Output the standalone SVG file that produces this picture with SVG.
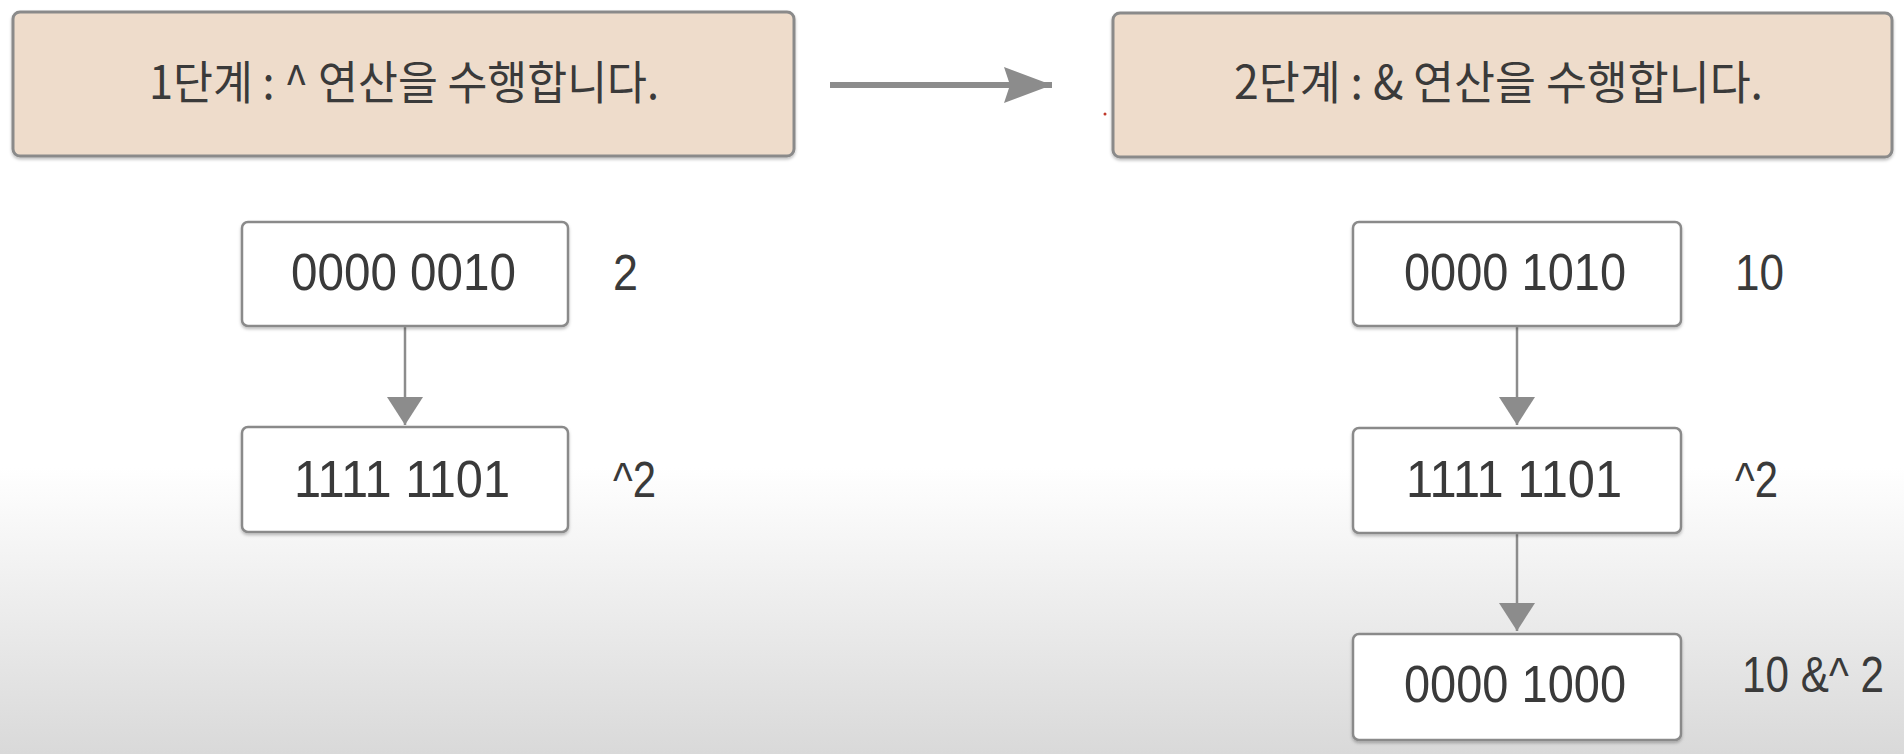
<svg xmlns="http://www.w3.org/2000/svg" width="1904" height="754" viewBox="0 0 1904 754">
  <defs>
    <linearGradient id="bg" x1="0" y1="0" x2="0" y2="754" gradientUnits="userSpaceOnUse">
      <stop offset="0" stop-color="#ffffff"/>
      <stop offset="0.62" stop-color="#ffffff"/>
      <stop offset="1" stop-color="#d9d9d9"/>
    </linearGradient>
    <filter id="sh" x="-5%" y="-5%" width="110%" height="115%">
      <feDropShadow dx="0" dy="2" stdDeviation="1.5" flood-color="#000" flood-opacity="0.25"/>
    </filter>
    <marker id="ah" viewBox="0 0 28 36" refX="28" refY="18" markerWidth="28" markerHeight="36" markerUnits="userSpaceOnUse" orient="auto">
      <path d="M0,0 L28,18 L0,36 Z" fill="#8c8c8c"/>
    </marker>
    <marker id="ahBig" viewBox="0 0 48 36" refX="48" refY="18" markerWidth="48" markerHeight="36" markerUnits="userSpaceOnUse" orient="auto">
      <path d="M0,0 L48,18 L0,36 L6,18 Z" fill="#8c8c8c"/>
    </marker>
    <style>
      .step rect { fill: #eedccb; stroke: #8a8a8a; stroke-width: 3; }
      .val rect { fill: #ffffff; stroke: #8a8a8a; stroke-width: 2.5; }
      .t { font-family: "Noto Sans CJK KR", "Noto Sans", sans-serif; font-size: 46px; fill: #3a3a3a; }
      .n { font-family: "Liberation Sans", Arial, sans-serif; font-size: 52px; fill: #3a3a3a; }
      .lbl { font-family: "Liberation Sans", Arial, sans-serif; font-size: 50px; fill: #3a3a3a; }
      .conn { stroke: #8c8c8c; stroke-width: 2.5; fill: none; }
      .conn.thick { stroke-width: 6; }
    </style>
  </defs>

  <rect x="0" y="0" width="1904" height="754" fill="url(#bg)"/>

  <g id="connectors">
    <line class="conn thick" x1="830" y1="85" x2="1052" y2="85" marker-end="url(#ahBig)"/>
    <line class="conn" x1="405" y1="326" x2="405" y2="425" marker-end="url(#ah)"/>
    <line class="conn" x1="1517" y1="326" x2="1517" y2="425" marker-end="url(#ah)"/>
    <line class="conn" x1="1517" y1="533" x2="1517" y2="631" marker-end="url(#ah)"/>
  </g>

  <g id="step1" class="step">
    <rect x="13" y="12" width="781" height="144" rx="7" filter="url(#sh)"/>
    <text class="t" x="149" y="99" textLength="510" lengthAdjust="spacingAndGlyphs">1단계 : ^ 연산을 수행합니다.</text>
  </g>

  <g id="step2" class="step">
    <rect x="1113" y="13" width="779" height="144" rx="7" filter="url(#sh)"/>
    <text class="t" x="1234" y="99" textLength="529" lengthAdjust="spacingAndGlyphs">2단계 : &amp; 연산을 수행합니다.</text>
  </g>

  <circle cx="1105" cy="114" r="1.5" fill="#c0392b"/>

  <g id="l1" class="val">
    <rect x="242" y="222" width="326" height="104" rx="6" filter="url(#sh)"/>
    <text class="n" x="291" y="290" textLength="225" lengthAdjust="spacingAndGlyphs">0000 0010</text>
  </g>
  <text class="lbl" x="613" y="290" textLength="25" lengthAdjust="spacingAndGlyphs">2</text>

  <g id="l2" class="val">
    <rect x="242" y="427" width="326" height="105" rx="6" filter="url(#sh)"/>
    <text class="n" x="294" y="497" textLength="216" lengthAdjust="spacingAndGlyphs">1111 1101</text>
  </g>
  <text class="lbl" x="613" y="497" textLength="43" lengthAdjust="spacingAndGlyphs">^2</text>

  <g id="r1" class="val">
    <rect x="1353" y="222" width="328" height="104" rx="6" filter="url(#sh)"/>
    <text class="n" x="1404" y="290" textLength="222" lengthAdjust="spacingAndGlyphs">0000 1010</text>
  </g>
  <text class="lbl" x="1735" y="290" textLength="49" lengthAdjust="spacingAndGlyphs">10</text>

  <g id="r2" class="val">
    <rect x="1353" y="428" width="328" height="105" rx="6" filter="url(#sh)"/>
    <text class="n" x="1406" y="497" textLength="216" lengthAdjust="spacingAndGlyphs">1111 1101</text>
  </g>
  <text class="lbl" x="1735" y="497" textLength="43" lengthAdjust="spacingAndGlyphs">^2</text>

  <g id="r3" class="val">
    <rect x="1353" y="634" width="328" height="106" rx="6" filter="url(#sh)"/>
    <text class="n" x="1404" y="702" textLength="222" lengthAdjust="spacingAndGlyphs">0000 1000</text>
  </g>
  <text class="lbl" x="1742" y="692" font-size="44" textLength="142" lengthAdjust="spacingAndGlyphs">10 &amp;^ 2</text>
</svg>
